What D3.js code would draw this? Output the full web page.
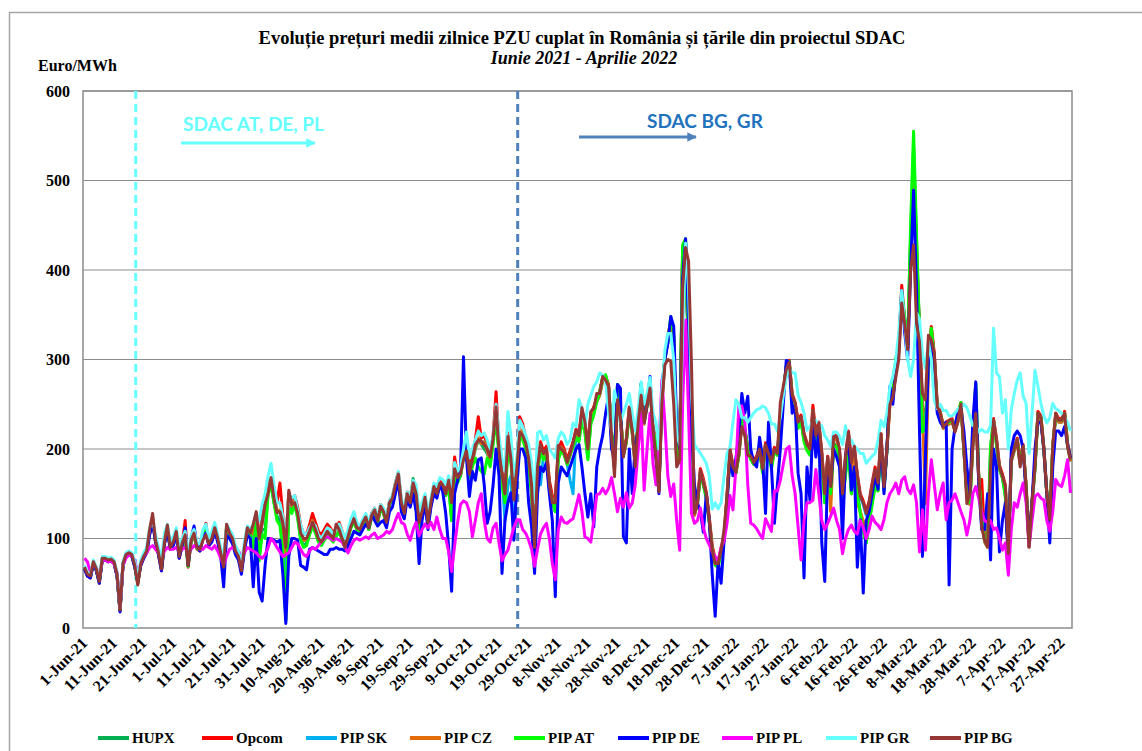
<!DOCTYPE html>
<html>
<head>
<meta charset="utf-8">
<script src="https://cdn.jsdelivr.net/npm/d3@7"></script>
<style>
  body { margin: 0; background: #fff; }
  text { font-family: "Liberation Serif", "Times New Roman", serif; font-weight: bold; }
</style>
</head>
<body>
<svg id="chart" width="1142" height="751"></svg>
<script>
// daily average prices, 1 Jun 2021 - 30 Apr 2022 (Euro/MWh)
const hupx = [68,60,58,74,66,52,78,78,76,77,74,60,20,72,82,84,82,70,52,72,80,86,108,120,98,84,68,96,112,90,
  95,106,80,94,104,72,98,108,90,88,102,110,94,100,110,100,84,60,112,104,100,86,80,66,90,108,104,90,118,80,110,
  110,150,160,140,125,120,90,10,140,130,140,125,100,92,95,105,115,108,98,94,100,104,102,98,104,110,100,92,102,114,120,
  112,110,118,124,112,126,132,120,136,130,118,140,145,160,170,140,128,150,145,167,150,110,130,146,118,140,158,150,162,160,
  150,160,120,175,165,172,195,200,172,186,200,210,205,200,195,186,210,240,195,165,145,205,190,150,175,220,215,205,185,151,82,
  175,200,190,195,160,145,130,190,200,195,185,195,205,215,210,235,220,190,230,240,255,265,280,282,270,220,190,272,240,195,
  210,240,220,190,235,273,235,250,275,222,210,160,260,303,318,345,325,190,195,425,430,300,205,130,140,170,160,145,120,88,72,
  70,86,100,145,195,178,175,195,235,225,200,190,185,190,202,175,205,195,180,200,195,235,262,292,297,258,245,225,232,210,200,
  195,240,210,225,190,140,185,150,205,205,190,140,175,200,150,180,150,130,110,95,120,140,160,155,205,155,200,260,
  262,300,311,375,345,315,440,540,430,330,219,225,295,335,300,245,240,225,228,230,232,222,240,251,200,150,140,210,273,170,125,
  98,92,203,232,205,178,168,147,85,188,200,210,185,203,158,92,140,180,240,235,200,150,120,203,238,232,232,240,205,188]

const opcom = [66,58,56,72,64,50,76,76,74,75,72,58,20,70,80,82,80,68,50,70,78,84,105,118,96,82,64,94,110,88,
  94,106,78,93,120,68,96,104,88,86,102,117,92,98,110,98,82,70,112,104,98,84,78,64,88,108,104,112,122,100,125,
  145,162,165,155,140,162,125,95,150,140,148,135,115,105,105,115,128,118,108,104,110,116,112,106,112,118,108,98,108,118,124,
  114,112,120,126,114,128,134,122,138,132,120,142,147,162,174,142,130,152,142,164,152,120,132,148,120,142,160,152,164,162,
  152,168,142,191,170,175,192,202,180,195,210,236,212,215,205,192,215,264,205,175,152,218,198,155,180,236,228,212,195,162,90,
  185,208,198,203,165,148,145,198,208,200,188,198,208,222,218,242,232,202,240,247,257,264,279,281,272,216,185,257,238,198,
  212,247,222,185,233,272,232,252,272,225,212,158,255,302,327,342,322,188,192,422,430,302,202,130,142,178,167,152,124,92,77,
  74,90,102,150,200,182,177,197,232,222,202,194,187,192,202,180,207,197,187,202,197,232,262,292,299,262,252,232,238,217,207,
  202,249,217,230,197,152,192,162,214,216,197,152,192,220,187,202,172,150,142,130,142,162,180,164,217,162,202,252,
  260,292,312,383,342,317,422,520,422,332,247,232,292,337,307,250,242,227,230,232,234,224,234,252,202,152,142,207,242,166,166,
  100,94,182,234,212,182,172,160,87,190,202,212,187,205,160,94,142,182,242,237,202,152,122,205,240,234,234,242,207,190]

const pipSK = [67,59,57,73,65,51,77,77,75,76,73,59,19,71,81,83,81,69,50,71,79,85,108,122,97,83,65,95,112,89,
  95,107,79,94,103,69,97,105,89,87,103,111,93,99,111,99,83,66,113,105,99,85,79,65,89,109,105,100,122,96,118,
  135,158,166,148,130,130,115,60,150,136,143,126,106,98,98,108,120,110,98,94,102,108,104,98,106,112,100,90,102,114,120,
  110,108,116,122,110,124,130,118,134,128,116,138,143,158,170,138,126,148,138,160,148,115,128,144,116,138,156,148,160,158,
  148,162,135,178,166,170,195,198,170,186,202,212,206,208,198,186,210,245,198,170,120,160,170,100,175,222,218,206,188,158,84,
  178,160,192,198,158,143,138,193,202,196,183,165,150,218,213,238,228,198,236,243,253,260,276,278,268,212,178,253,233,193,
  208,243,218,180,228,268,228,248,268,220,208,153,250,298,322,338,318,183,188,418,426,298,198,126,138,174,163,148,120,88,73,
  70,86,98,146,196,178,173,193,228,218,198,190,183,188,198,176,203,193,183,198,193,230,262,292,295,258,248,228,234,213,203,
  198,243,213,226,193,148,188,158,210,212,193,148,188,216,183,198,168,146,138,126,138,158,176,160,213,158,198,268,
  256,288,308,368,338,313,418,510,418,328,243,228,288,328,303,246,238,223,226,228,230,220,230,248,198,148,138,203,238,168,118,
  96,90,178,230,208,178,168,156,83,186,198,208,183,201,156,90,138,178,238,233,198,148,118,201,236,230,230,238,203,186]

const pipCZ = [67,59,57,73,65,51,77,77,75,76,73,59,19,71,81,83,81,69,50,71,79,85,108,122,97,83,65,95,112,89,
  95,107,79,94,103,69,97,105,89,87,103,111,93,99,111,99,83,68,113,105,99,85,79,65,89,109,105,105,122,98,118,
  138,158,166,148,130,132,116,80,150,136,143,126,106,98,98,108,120,110,98,94,102,108,104,98,106,112,100,90,102,114,120,
  110,108,116,122,110,124,130,118,134,128,116,138,143,158,170,138,126,148,138,160,148,116,128,144,116,138,156,148,160,158,
  148,162,138,178,166,170,192,198,170,186,202,212,206,208,198,186,210,245,198,170,148,212,192,148,175,222,218,206,188,158,84,
  178,202,192,198,158,143,138,193,202,196,183,193,203,218,213,238,228,198,236,243,253,260,276,278,268,212,178,253,233,193,
  208,243,218,180,228,268,228,248,268,220,208,153,250,298,322,338,318,183,188,418,426,298,198,126,138,174,163,148,120,88,73,
  70,86,98,146,196,178,173,193,228,218,198,190,183,188,198,176,203,193,183,198,193,230,262,292,295,258,248,228,234,213,203,
  198,243,213,226,193,148,188,130,210,212,193,140,175,216,160,198,140,130,120,110,125,150,176,160,213,158,198,250,
  256,288,308,368,338,313,418,500,418,328,243,139,288,328,303,246,238,223,226,228,230,220,230,248,198,148,138,203,238,168,118,
  96,90,178,230,208,178,168,156,83,186,198,208,183,201,156,90,138,178,238,233,198,148,118,201,236,230,230,238,203,186]

const pipAT = [67,59,57,73,65,51,77,77,75,76,73,59,19,71,81,83,81,69,50,71,79,85,108,122,97,83,65,95,112,89,
  95,107,79,94,103,69,97,105,89,87,103,111,93,99,111,99,83,60,113,105,99,85,79,65,89,109,105,85,120,75,105,
  100,150,160,140,120,115,85,8,135,128,138,122,98,90,92,104,114,106,96,92,98,102,100,96,102,108,98,90,100,112,118,
  110,108,116,122,110,124,130,118,134,128,116,138,143,158,170,138,126,148,142,162,148,112,128,144,116,138,156,148,160,158,
  148,158,120,170,162,170,190,195,168,180,190,180,175,172,190,180,205,235,190,160,140,200,185,148,172,215,210,200,180,151,82,
  172,198,188,193,155,140,130,188,198,193,183,193,203,213,208,233,218,188,228,238,253,263,280,283,268,218,188,272,238,193,
  208,240,218,188,233,273,233,248,273,220,208,158,260,303,320,348,328,190,195,428,435,302,205,130,140,170,160,145,118,86,70,
  68,84,98,143,193,176,173,193,233,223,198,188,183,188,200,173,203,193,178,198,193,233,262,292,298,256,243,223,230,208,198,
  193,238,208,223,188,140,183,150,203,203,188,140,170,195,150,178,148,128,108,95,118,138,158,153,203,153,198,262,
  262,302,312,376,347,315,450,555,440,330,219,225,296,335,300,245,240,225,228,230,232,222,240,252,200,150,140,210,273,170,125,
  98,92,203,232,205,178,168,147,85,188,200,210,185,203,158,92,140,180,240,235,200,150,120,203,238,232,232,240,205,188]

const pipDE = [66,58,56,72,64,50,76,76,74,75,72,58,18,70,80,82,80,68,52,70,78,84,104,118,96,82,64,94,108,88,
  92,104,78,92,112,70,100,114,92,86,100,106,92,96,108,96,80,46,104,100,94,82,76,60,86,104,100,46,100,40,30,
  70,100,100,98,96,98,60,5,80,100,100,98,70,68,65,88,90,88,86,84,82,82,88,88,90,88,88,86,92,100,108,
  106,104,110,116,112,128,120,114,118,120,112,130,135,150,165,130,122,145,135,150,130,72,120,140,110,135,150,145,160,152,
  128,90,41,150,165,175,303,191,147,175,165,188,190,160,117,130,160,200,170,61,120,140,151,98,160,200,200,190,140,113,61,
  150,180,175,185,150,120,35,162,180,175,170,180,190,200,205,180,150,124,150,113,180,200,215,240,260,200,190,272,268,102,
  95,200,150,205,220,273,230,250,281,215,190,150,270,300,318,348,337,225,200,390,435,340,222,160,140,130,107,150,120,60,13,
  75,50,97,140,190,170,190,215,262,240,259,200,185,180,213,190,128,230,180,117,160,200,250,299,297,240,250,173,150,56,180,
  143,230,191,220,95,52,180,160,200,191,180,100,190,215,154,180,68,121,39,120,130,150,170,155,210,150,200,270,
  250,290,320,377,330,300,400,489,380,220,80,190,300,320,280,240,230,225,230,48,200,225,243,245,220,180,150,230,275,160,110,
  110,150,76,200,180,85,120,140,75,200,215,220,215,200,150,100,140,200,230,230,200,150,95,180,220,220,215,225,205,190]

const pipPL = [78,74,62,72,68,56,76,76,74,75,72,62,24,70,78,82,80,76,60,72,80,84,90,92,88,84,76,86,90,88,
  88,90,86,88,90,84,88,92,90,88,88,92,90,88,92,86,78,70,80,88,90,88,86,80,84,90,88,86,84,80,78,
  82,90,100,96,90,85,80,82,84,90,96,94,88,82,80,86,90,88,92,96,100,102,100,98,100,98,96,90,84,92,98,
  100,98,100,102,100,104,106,100,102,104,108,106,110,120,128,118,116,105,98,110,118,103,110,116,112,118,110,124,110,100,
  100,85,63,92,118,138,142,140,130,102,120,140,150,120,100,96,112,117,95,75,82,87,100,112,121,121,110,106,98,88,69,
  88,105,112,117,100,72,54,110,124,118,117,120,122,135,149,130,102,100,96,120,149,150,156,150,156,168,150,130,145,135,
  151,134,140,160,200,240,154,200,240,184,160,200,277,230,170,147,161,120,87,250,344,240,128,117,120,134,112,100,93,85,80,
  75,90,97,117,148,132,180,248,248,231,160,117,115,111,105,100,122,115,108,153,153,165,183,200,203,170,150,113,76,120,140,
  140,143,177,150,120,110,117,125,134,120,110,83,100,110,115,108,105,120,112,100,110,125,118,115,110,121,140,150,
  155,162,150,165,169,155,150,160,140,85,132,87,150,188,160,132,150,162,121,140,143,150,140,130,121,104,120,150,158,145,130,
  120,118,120,110,112,100,87,95,59,110,140,135,150,162,140,91,120,147,150,145,143,120,108,130,166,160,158,170,188,151]

const pipGR = [70,62,60,76,68,54,80,80,78,79,76,62,22,74,84,86,84,74,56,76,84,90,112,120,104,90,76,106,116,96,
  102,112,90,100,108,80,104,110,96,94,110,116,100,108,118,104,90,78,116,110,104,92,86,72,96,114,110,116,128,120,138,
  150,170,184,160,140,140,124,100,150,145,148,132,115,106,104,112,117,114,104,100,106,112,110,104,110,116,108,100,110,122,130,
  118,114,122,128,118,128,134,124,138,134,122,142,148,162,175,145,134,152,146,165,160,130,140,150,128,145,162,158,168,166,
  160,170,150,185,175,180,200,219,190,200,210,220,215,218,210,200,215,250,215,190,175,242,215,170,190,232,225,215,205,185,140,
  218,220,210,215,200,195,190,212,219,215,205,210,229,225,255,245,225,250,260,270,275,285,282,275,240,220,265,250,230,240,
  250,262,240,220,245,275,250,262,280,240,230,200,265,310,329,329,300,215,205,330,430,380,260,205,200,195,190,184,170,133,140,
  133,140,170,195,202,230,255,250,235,235,230,235,240,244,245,248,246,240,228,228,220,235,260,280,290,285,285,260,252,240,221,
  225,232,232,228,226,215,210,203,219,219,214,205,226,208,210,203,200,195,195,184,188,192,195,210,232,225,240,270,
  281,300,330,377,340,300,281,300,352,345,307,290,320,300,254,245,250,243,243,237,237,240,245,246,250,246,237,226,226,219,222,
  219,219,226,335,285,281,240,255,200,244,262,277,285,259,251,195,240,288,270,251,237,229,235,251,245,243,240,235,230,220]

const pipBG = [68,60,58,74,66,52,78,78,76,77,74,60,20,72,82,84,82,70,48,72,80,86,110,128,98,84,66,96,115,90,
  96,108,80,95,104,70,98,106,90,88,98,104,94,100,112,100,84,68,116,106,100,86,80,64,90,112,106,116,130,100,118,
  138,150,168,145,129,130,118,90,154,138,140,128,106,100,100,108,118,110,100,96,102,108,104,100,116,110,100,90,102,114,122,
  112,110,118,124,112,126,132,120,136,130,118,140,145,160,172,140,128,150,140,162,150,118,130,146,118,140,158,150,162,160,
  150,165,140,178,168,172,188,198,172,188,205,210,209,205,200,191,212,247,198,172,150,214,190,143,178,219,215,207,190,160,90,
  180,205,195,200,160,140,140,204,200,196,185,195,207,221,215,246,230,200,242,245,262,262,281,277,270,214,169,255,235,191,
  210,246,220,180,230,260,230,250,268,221,191,152,252,294,300,298,250,180,187,380,425,410,294,128,139,176,162,150,121,87,72,
  72,87,110,147,199,180,174,195,225,215,193,192,185,190,200,178,205,195,185,200,195,252,270,289,297,260,251,230,236,217,205,
  200,243,215,229,195,150,191,158,214,214,200,150,190,219,185,203,170,147,140,128,140,160,177,162,217,158,200,250,
  258,280,300,363,340,311,400,428,340,320,262,255,327,322,307,247,240,225,228,232,232,219,232,250,199,139,150,203,240,170,113,
  98,91,180,232,210,180,170,158,83,188,200,210,180,203,158,91,140,180,240,235,200,150,121,203,240,232,232,240,203,188]

const seriesNames = ["HUPX", "Opcom", "PIP SK", "PIP CZ", "PIP AT", "PIP DE", "PIP PL", "PIP GR", "PIP BG"]
const seriesValues = [hupx, opcom, pipSK, pipCZ, pipAT, pipDE, pipPL, pipGR, pipBG]
const seriesColors = ["#00b050", "#ff0000", "#00b0f0", "#e46c0a", "#00ff00", "#0000ff", "#ff00ff", "#66ffff", "#953735"]
const yTicks = [0, 100, 200, 300, 400, 500, 600]

const days = d3.timeDay.range(new Date(2021, 5, 1), new Date(2022, 4, 1))
const fmt = d3.timeFormat("%-d-%b-%y")
const labels = days.map(fmt)

seriesValues.forEach((s, k) => { if (s.length !== labels.length) console.log(seriesNames[k], s.length, labels.length) })

const svg = d3.select('#chart')
const plotL = 83, plotR = 1072, plotT = 91, plotB = 628

const x = d3.scaleBand().domain(labels).range([plotL, plotR])
const xi = d3.scaleLinear().domain([0, labels.length]).range([plotL, plotR])
const y = d3.scaleLinear().domain([0, 600]).range([plotB, plotT])

// outer frame
svg.append('rect')
    .attr('x', 9.5).attr('y', 12.5).attr('width', 1200).attr('height', 800)
    .attr('fill', 'none').attr('stroke', '#a6a6a6').attr('stroke-width', 1.5)

// title
svg.append('text')
    .attr('x', 582).attr('y', 44)
    .attr('text-anchor', 'middle')
    .style('font-size', '18.5px')
    .text('Evoluție prețuri medii zilnice PZU cuplat în România și țările din proiectul SDAC')
svg.append('text')
    .attr('x', 584).attr('y', 64)
    .attr('text-anchor', 'middle')
    .style('font-size', '18px')
    .style('font-style', 'italic')
    .text('Iunie 2021 - Aprilie 2022')
svg.append('text')
    .attr('x', 38).attr('y', 71)
    .style('font-size', '16px')
    .text('Euro/MWh')

// grid
svg.append('g')
    .selectAll('line')
    .data(yTicks.filter(d => d > 0))
    .join('line')
    .attr('x1', plotL).attr('x2', plotR)
    .attr('y1', d => y(d)).attr('y2', d => y(d))
    .attr('stroke', '#8c8c8c').attr('stroke-width', 1)

svg.append('rect')
    .attr('x', plotL).attr('y', plotT).attr('width', plotR - plotL).attr('height', plotB - plotT)
    .attr('fill', 'none').attr('stroke', '#8c8c8c').attr('stroke-width', 1.5)

// y labels
svg.append('g')
    .selectAll('text')
    .data(yTicks)
    .join('text')
    .attr('x', 70).attr('y', d => y(d))
    .attr('dy', '0.35em')
    .attr('text-anchor', 'end')
    .style('font-size', '16px')
    .text(d => d)

// x labels, every 10th day
svg.append('g')
    .selectAll('text')
    .data(labels.filter((d, i) => i % 10 === 0))
    .join('text')
    .attr('transform', d => `translate(${x(d) + x.bandwidth() / 2 + 4},${plotB + 16}) rotate(-45)`)
    .attr('text-anchor', 'end')
    .style('font-size', '16px')
    .text(d => d)

// coupling markers
svg.append('line')
    .attr('x1', xi(17.8)).attr('x2', xi(17.8)).attr('y1', plotT).attr('y2', plotB)
    .attr('stroke', '#66ffff').attr('stroke-width', 3).attr('stroke-dasharray', '8,5')
svg.append('line')
    .attr('x1', xi(146.8)).attr('x2', xi(146.8)).attr('y1', plotT).attr('y2', plotB)
    .attr('stroke', '#4f81bd').attr('stroke-width', 3).attr('stroke-dasharray', '8,5')

const defs = svg.append('defs')
const marker = (id, color) => defs.append('marker')
    .attr('id', id).attr('viewBox', '0 0 10 10').attr('refX', 9).attr('refY', 5)
    .attr('markerWidth', 3.2).attr('markerHeight', 3.2).attr('orient', 'auto')
    .append('path').attr('d', 'M0,0L10,5L0,10Z').attr('fill', color)
marker('arrCyan', '#66ffff')
marker('arrBlue', '#4f81bd')

svg.append('line')
    .attr('x1', xi(33.1)).attr('x2', xi(78.3)).attr('y1', 143).attr('y2', 143)
    .attr('stroke', '#66ffff').attr('stroke-width', 3).attr('marker-end', 'url(#arrCyan)')
svg.append('text')
    .attr('x', xi(33.8)).attr('y', 131)
    .style('font-family', 'Lato, "Open Sans", sans-serif').style('font-size', '19px')
    .attr('fill', '#66ffff')
    .text('SDAC AT, DE, PL')
svg.append('line')
    .attr('x1', xi(167.5)).attr('x2', xi(207)).attr('y1', 137).attr('y2', 137)
    .attr('stroke', '#4f81bd').attr('stroke-width', 3).attr('marker-end', 'url(#arrBlue)')
svg.append('text')
    .attr('x', xi(190.5)).attr('y', 128)
    .style('font-family', 'Lato, "Open Sans", sans-serif').style('font-size', '19px')
    .attr('fill', '#1f73be')
    .text('SDAC BG, GR')

// series
const line = d3.line()
    .x((d, i) => x(labels[i]) + x.bandwidth() / 2)
    .y(d => y(d))

svg.append('g')
    .selectAll('path')
    .data(seriesValues)
    .join('path')
    .attr('fill', 'none')
    .attr('stroke', (d, k) => seriesColors[k])
    .attr('stroke-width', 3)
    .attr('stroke-linejoin', 'round')
    .attr('d', d => line(d))

// legend
const legend = svg.append('g')
    .selectAll('g')
    .data(seriesNames)
    .join('g')
    .attr('transform', (d, k) => `translate(${98 + k * 104},738)`)
legend.append('line')
    .attr('x1', 0).attr('x2', 31)
    .attr('stroke', (d, k) => seriesColors[k]).attr('stroke-width', 4)
legend.append('text')
    .attr('x', 34).attr('dy', '0.35em')
    .style('font-size', '15px')
    .text(d => d)
</script>
</body>
</html>
